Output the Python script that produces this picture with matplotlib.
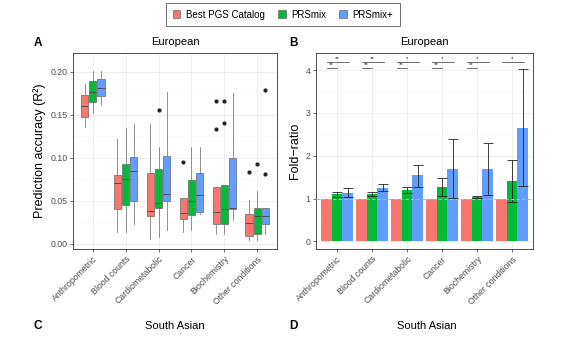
import matplotlib
matplotlib.use("Agg")
import matplotlib.pyplot as plt
from matplotlib.patches import Patch
import numpy as np

plt.rcParams['font.family'] = ['Liberation Sans', 'DejaVu Sans']

categories = ["Anthropometric", "Blood counts", "Cardiometabolic", "Cancer",
              "Biochemistry", "Other conditions"]
methods = ["Best PGS Catalog", "PRSmix", "PRSmix+"]
colors = ["#F8766D", "#00BA38", "#619CFF"]

# Panel A boxplot stats (per method, per category)
box_med = [[0.160, 0.071, 0.038, 0.0357, 0.0369, 0.0245],
           [0.1765, 0.0756, 0.047, 0.0497, 0.0404, 0.0316],
           [0.181, 0.084, 0.058, 0.056, 0.0415, 0.0316]]
box_q1 = [[0.147, 0.0407, 0.032, 0.0286, 0.023, 0.0089],
          [0.164, 0.0446, 0.0415, 0.033, 0.023, 0.0109],
          [0.171, 0.049, 0.0497, 0.0368, 0.0407, 0.0226]]
box_q3 = [[0.173, 0.0795, 0.082, 0.0525, 0.0657, 0.035],
          [0.1886, 0.0924, 0.0865, 0.074, 0.068, 0.0413],
          [0.191, 0.1002, 0.1018, 0.0826, 0.0998, 0.042]]
box_lo = [[0.135, 0.0134, 0.0055, 0.0134, 0.0114, 0.004],
          [0.152, 0.0134, 0.0075, 0.016, 0.0114, 0.004],
          [0.1616, 0.023, 0.016, 0.034, 0.028, 0.011]]
box_hi = [[0.186, 0.1217, 0.1385, 0.0525, 0.0657, 0.051],
          [0.201, 0.1346, 0.112, 0.112, 0.068, 0.0616],
          [0.201, 0.1385, 0.1765, 0.112, 0.1745, 0.042]]
box_fliers = [[[], [], [], [0.0944], [0.1655, 0.1334], [0.0838]],
              [[], [], [0.155], [], [0.1655, 0.1405], [0.0924]],
              [[], [], [], [], [], [0.1785, 0.081]]]

# Panel B fold-ratio bars
fold_val = [[1, 1, 1, 1, 1, 1],
            [1.10, 1.10, 1.20, 1.27, 1.04, 1.40],
            [1.13, 1.25, 1.54, 1.70, 1.69, 2.65]]
fold_lo = [[None] * 6,
           [1.04, 1.05, 1.13, 1.07, 1.01, 0.92],
           [1.03, 1.17, 1.28, 1.01, 1.08, 1.29]]
fold_hi = [[None] * 6,
           [1.15, 1.15, 1.28, 1.48, 1.07, 1.89],
           [1.24, 1.35, 1.79, 2.38, 2.30, 4.02]]
sig_upper = ["**", "**", "*", "*", "*", "*"]
sig_lower = ["**", "**", "**", "**", "**", ""]

W, H = 563, 337
fig = plt.figure(figsize=(W / 100, H / 100), dpi=100)

def fx(px):
    return px / W

def fy(py):
    return 1 - py / H

axA = fig.add_axes([fx(73), fy(249), fx(277 - 73), fy(53) - fy(249)])
axB = fig.add_axes([fx(316), fy(249), fx(533 - 316), fy(53) - fy(249)])

def style(ax):
    ax.set_facecolor("white")
    for s in ax.spines.values():
        s.set_color("#333333")
        s.set_linewidth(0.6)
    ax.tick_params(axis="both", colors="#333333", labelcolor="#4D4D4D",
                   labelsize=6.3, length=2.5, width=0.5, pad=1.5)
    ax.grid(which="major", color="#EBEBEB", linewidth=0.6)
    ax.grid(which="minor", color="#F4F4F4", linewidth=0.4)
    ax.set_axisbelow(True)

x = np.arange(len(categories))
offsets = [-0.25, 0.0, 0.25]

# Panel A
style(axA)
for m in range(3):
    stats = []
    for c in range(len(categories)):
        stats.append(dict(med=box_med[m][c], q1=box_q1[m][c], q3=box_q3[m][c],
                          whislo=box_lo[m][c], whishi=box_hi[m][c],
                          fliers=box_fliers[m][c]))
    axA.bxp(stats, positions=x + offsets[m], widths=0.22, patch_artist=True,
            showcaps=False,
            boxprops=dict(facecolor=colors[m], edgecolor="#666666", linewidth=0.5),
            medianprops=dict(color="#444444", linewidth=0.6),
            whiskerprops=dict(color="#808080", linewidth=0.6),
            flierprops=dict(marker="o", markersize=2, markerfacecolor="#222222",
                            markeredgecolor="#222222"),
            manage_ticks=False)
axA.set_xlim(-0.6, len(categories) - 0.4)
axA.set_ylim(-0.0062, 0.2215)
axA.set_yticks([0.00, 0.05, 0.10, 0.15, 0.20])
axA.set_yticklabels(["0.00", "0.05", "0.10", "0.15", "0.20"])
axA.set_yticks(np.arange(0.025, 0.22, 0.05), minor=True)
axA.tick_params(axis="y", which="minor", length=0)
axA.set_xticks(x)
axA.set_xticklabels(categories, rotation=45, ha="right", rotation_mode="anchor")
axA.set_ylabel("Prediction accuracy (R²)", fontsize=9, color="black", labelpad=3)

# Panel B
style(axB)
bw = 0.3
boffs = [-0.3, 0.0, 0.3]
for m in range(3):
    axB.bar(x + boffs[m], fold_val[m], width=bw, color=colors[m], zorder=2)
    if fold_lo[m][0] is not None:
        lo = np.array(fold_lo[m])
        hi = np.array(fold_hi[m])
        v = np.array(fold_val[m])
        axB.errorbar(x + boffs[m], v, yerr=[v - lo, hi - v], fmt="none",
                     ecolor="#222222", elinewidth=0.6, capsize=3.5,
                     capthick=0.6, zorder=3)
axB.axhline(1, color="#F49AC2", linestyle=(0, (3, 2)), linewidth=0.8, zorder=4)
for c in range(len(categories)):
    xr = x[c] + boffs[0]
    xg = x[c] + boffs[1]
    xb = x[c] + boffs[2]
    axB.plot([xr, xb + 0.04], [4.195, 4.195], color="#333333", linewidth=0.5)
    axB.text((xr + xb) / 2, 4.22, sig_upper[c], ha="center", va="bottom",
             fontsize=4.5, color="#333333")
    if sig_lower[c]:
        axB.plot([xr, xg], [4.05, 4.05], color="#333333", linewidth=0.5)
        axB.text((xr + xg) / 2, 4.075, sig_lower[c], ha="center", va="bottom",
                 fontsize=4.5, color="#333333")
axB.set_xlim(-0.6, len(categories) - 0.4)
axB.set_ylim(-0.18, 4.40)
axB.set_yticks([0, 1, 2, 3, 4])
axB.set_yticks([0.5, 1.5, 2.5, 3.5], minor=True)
axB.tick_params(axis="y", which="minor", length=0)
axB.set_xticks(x)
axB.set_xticklabels(categories, rotation=45, ha="right", rotation_mode="anchor")
axB.set_ylabel("Fold\u2212ratio", fontsize=9, color="black", labelpad=3)

# Titles and panel letters
fig.text(fx(175), fy(42), "European", ha="center", va="center", fontsize=8)
fig.text(fx(424), fy(42), "European", ha="center", va="center", fontsize=8)
fig.text(fx(175), fy(326), "South Asian", ha="center", va="center", fontsize=8)
fig.text(fx(427), fy(326), "South Asian", ha="center", va="center", fontsize=8)
for lab, px, py in [("A", 38, 43), ("B", 293, 43), ("C", 38, 326), ("D", 293, 326)]:
    fig.text(fx(px), fy(py), lab, ha="center", va="center", fontsize=8.5,
             fontweight="bold")

# Legend
handles = [Patch(facecolor=colors[i], edgecolor="#666666", linewidth=0.5)
           for i in range(3)]
leg = fig.legend(handles, methods, loc="center", ncol=3,
                 bbox_to_anchor=(fx(283), fy(14.5)), fontsize=7,
                 frameon=True, fancybox=False, handlelength=0.8,
                 handleheight=0.8, handletextpad=0.6, columnspacing=1.3,
                 borderpad=0.7)
leg.get_frame().set_edgecolor("#333333")
leg.get_frame().set_linewidth(0.6)

fig.savefig("out.png", dpi=100, facecolor="white")
